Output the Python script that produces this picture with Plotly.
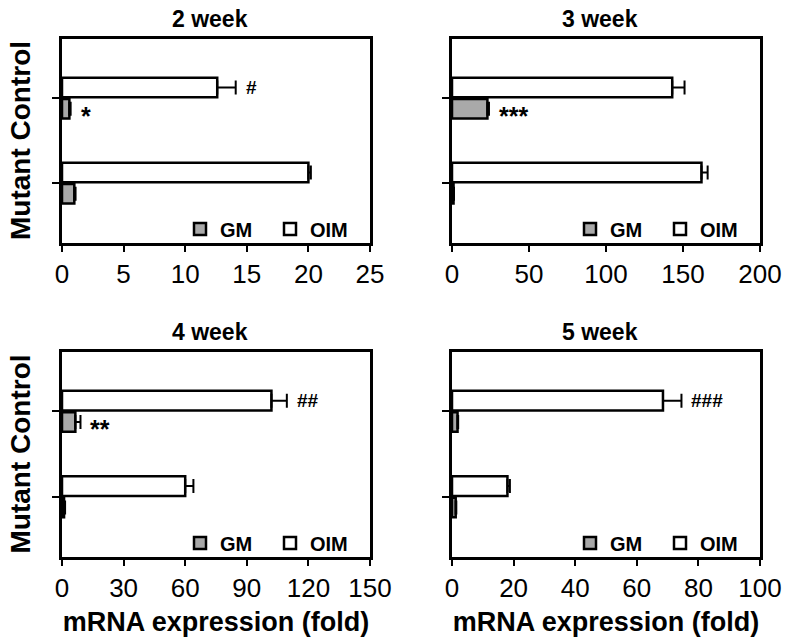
import plotly.graph_objects as go

# ---- data ----
panels = ["2 week", "3 week", "4 week", "5 week"]
groups = ["Mutant", "Control"]          # y positions 0 (bottom), 1 (top)
gm_vals = [[1.0, 0.6], [1.0, 23.0], [1.0, 6.5], [1.2, 1.8]]
gm_errs = [[0.1, 0.1], [0.3, 1.0], [0.5, 2.5], [0.2, 0.2]]
oim_vals = [[20.0, 12.6], [162.0, 143.0], [60.0, 102.0], [18.0, 68.5]]
oim_errs = [[0.2, 1.5], [4.0, 8.0], [4.0, 7.5], [0.8, 6.0]]
x_max = [25, 200, 150, 100]
x_dtick = [5, 50, 30, 20]
# significance marks: (panel, series, group index, text)
marks = [(0, "OIM", 1, "#"), (0, "GM", 1, "*"), (1, "GM", 1, "***"),
         (2, "OIM", 1, "##"), (2, "GM", 1, "**"), (3, "OIM", 1, "###")]

W, H = 791, 643
# pixel boxes of each panel: (x0, x1, ytop, ybottom)
boxes = [(62, 370, 39, 243), (452, 760, 39, 243), (62, 370, 352, 557), (452, 760, 352, 557)]
title_cx = [210, 600, 210, 600]

GRAY = "#a9a9a9"
FONT = "Arial, Liberation Sans, sans-serif"

fig = go.Figure()
layout = dict(
    width=W, height=H, margin=dict(l=0, r=0, t=0, b=0),
    paper_bgcolor="white", plot_bgcolor="white",
    barmode="group", bargap=0.5, bargroupgap=0.08,
    font=dict(family=FONT, color="black"),
    annotations=[],
)

for i in range(4):
    x0, x1, yt, yb = boxes[i]
    sfx = "" if i == 0 else str(i + 1)
    xa, ya = "x" + sfx, "y" + sfx
    leg = "legend" + sfx
    fig.add_trace(go.Bar(
        y=[0, 1], x=gm_vals[i], orientation="h", name="GM",
        marker=dict(color=GRAY, line=dict(color="black", width=2.5)),
        error_x=dict(type="data", array=gm_errs[i], arrayminus=[0, 0], symmetric=False,
                     thickness=2, width=7, color="black"),
        xaxis=xa, yaxis=ya, legend=leg, showlegend=True))
    fig.add_trace(go.Bar(
        y=[0, 1], x=oim_vals[i], orientation="h", name="OIM",
        marker=dict(color="white", line=dict(color="black", width=2.5)),
        error_x=dict(type="data", array=oim_errs[i], arrayminus=[0, 0], symmetric=False,
                     thickness=2, width=7, color="black"),
        xaxis=xa, yaxis=ya, legend=leg, showlegend=True))

    bottom_row = i >= 2
    layout["xaxis" + sfx] = dict(
        domain=[x0 / W, x1 / W], anchor=ya, range=[0, x_max[i]], dtick=x_dtick[i], tick0=0,
        ticks="outside", ticklen=6, tickwidth=2, tickcolor="black",
        showline=True, linewidth=2.5, linecolor="black", mirror=True,
        showgrid=False, zeroline=False, automargin=False,
        tickfont=dict(size=26, family=FONT),
        title=dict(text="<b>mRNA expression (fold)</b>" if bottom_row else "",
                   font=dict(size=27, family=FONT), standoff=11),
    )
    layout["yaxis" + sfx] = dict(
        domain=[1 - yb / H, 1 - yt / H], anchor=xa, range=[-0.705, 1.695],
        tickvals=[0, 1], showticklabels=False,
        ticks="outside", ticklen=7, tickwidth=2, tickcolor="black",
        showline=True, linewidth=2.5, linecolor="black", mirror=True,
        showgrid=False, zeroline=False, automargin=False,
    )
    layout[leg] = dict(
        orientation="h", x=360 / W + (x0 - 62) / W, xanchor="right",
        y=1 - (yb - 14) / H, yanchor="middle", bgcolor="rgba(0,0,0,0)",
        font=dict(size=20, family=FONT, weight="bold"), traceorder="normal",
        itemwidth=30, tracegroupgap=0, entrywidth=45, entrywidthmode="pixels",
    )
    # panel title
    layout["annotations"].append(dict(
        text="<b>%s</b>" % panels[i], xref="paper", yref="paper",
        x=title_cx[i] / W, y=1 - (yt - 20) / H, xanchor="center", yanchor="middle",
        showarrow=False, font=dict(size=23, family=FONT)))
    # y label
    if i in (0, 2):
        layout["annotations"].append(dict(
            text="<b>Mutant Control</b>", xref="paper", yref="paper",
            x=20 / W, y=1 - (yt + yb) / 2 / H, xanchor="center", yanchor="middle",
            textangle=-90, showarrow=False, font=dict(size=28, family=FONT)))

for (p, series, g, txt) in marks:
    sfx = "" if p == 0 else str(p + 1)
    if series == "OIM":
        xv = oim_vals[p][g] + oim_errs[p][g]
        yv = g + 0.125
    else:
        xv = gm_vals[p][g] + gm_errs[p][g]
        yv = g - 0.125
    star = "*" in txt
    layout["annotations"].append(dict(
        text="<b>%s</b>" % txt, xref="x" + sfx, yref="y" + sfx,
        x=xv, y=yv, xanchor="left", yanchor="middle", xshift=8,
        yshift=-7 if star else 0, showarrow=False,
        font=dict(size=25 if star else 19, family=FONT, color="black")))

fig.update_layout(**layout)
fig.write_html("out.html", config={"displayModeBar": False},
               post_script="document.body.style.margin='0';document.body.style.padding='0';")
